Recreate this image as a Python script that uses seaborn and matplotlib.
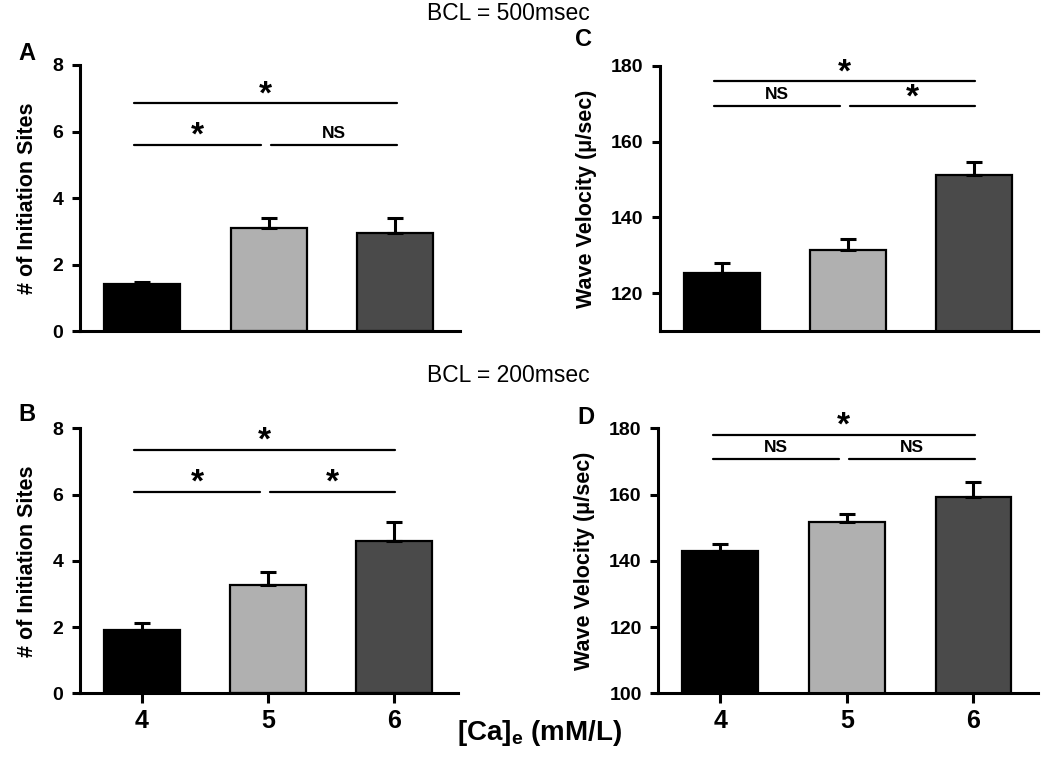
import numpy as np
import matplotlib
import matplotlib.pyplot as plt
import seaborn as sns

matplotlib.use('Agg')

# values
conc = ['4', '5', '6']
bar_colors = ['#000000', '#b0b0b0', '#4a4a4a']

sites_500 = [1.40, 3.10, 2.95]
sites_500_err = [0.07, 0.30, 0.45]
vel_500 = [125.4, 131.4, 151.2]
vel_500_err = [2.5, 2.8, 3.4]

sites_200 = [1.91, 3.27, 4.60]
sites_200_err = [0.20, 0.38, 0.58]
vel_200 = [143.1, 151.8, 159.4]
vel_200_err = [2.0, 2.3, 4.5]

# significance brackets: (from, to, height, label)
sig_a = [(0, 1, 5.6, '*'), (1, 2, 5.6, 'NS'), (0, 2, 6.85, '*')]
sig_b = [(0, 1, 6.09, '*'), (1, 2, 6.09, '*'), (0, 2, 7.35, '*')]
sig_c = [(0, 1, 169.4, 'NS'), (1, 2, 169.4, '*'), (0, 2, 176.0, '*')]
sig_d = [(0, 1, 170.8, 'NS'), (1, 2, 170.8, 'NS'), (0, 2, 178.0, '*')]

sns.set_theme(style='ticks')
plt.rcParams['font.family'] = ['Liberation Sans', 'DejaVu Sans']
plt.rcParams['mathtext.fontset'] = 'custom'
plt.rcParams['mathtext.rm'] = 'Liberation Sans'
plt.rcParams['mathtext.bf'] = 'Liberation Sans:bold'
for key in ['text.color', 'axes.labelcolor', 'xtick.color', 'ytick.color']:
    plt.rcParams[key] = 'black'

W, H = 1050, 762
fig = plt.figure(figsize=(W / 100, H / 100), dpi=100)
ax_a = fig.add_axes([0.0762, 0.5656, 0.3619, 0.3491])
ax_c = fig.add_axes([0.6286, 0.5656, 0.3600, 0.3478])
ax_b = fig.add_axes([0.0762, 0.0901, 0.3600, 0.3478])
ax_d = fig.add_axes([0.6270, 0.0901, 0.3616, 0.3478])


def panel(ax, vals, errs, sigs, ylim, yticks, ylabel, label_x, show_x):
    sns.barplot(x=conc, y=vals, hue=conc, palette=bar_colors, legend=False,
                edgecolor='black', linewidth=1.6, width=0.6, ax=ax)
    ax.errorbar(range(len(conc)), vals, yerr=[np.zeros(len(vals)), errs],
                fmt='none', ecolor='black', elinewidth=2.2, capsize=6, capthick=2.2)
    ax.set_xlim(-0.49, 2.51)
    ax.set_ylim(*ylim)
    ax.set_yticks(yticks)
    ax.set_yticklabels([str(t) for t in yticks], fontsize=14, fontweight='bold')
    ax.set_ylabel(ylabel, fontsize=15.5, fontweight='bold')
    ax.yaxis.set_label_coords(label_x, 0.5)
    ax.set_xlabel('')
    sns.despine(ax=ax)
    for s in ['left', 'bottom']:
        ax.spines[s].set_linewidth(2.2)
        ax.spines[s].set_color('black')
    ax.tick_params(axis='y', length=6, width=2.2, pad=6, colors='black')
    if show_x:
        ax.set_xticks(range(len(conc)))
        ax.set_xticklabels(conc, fontsize=18, fontweight='bold')
        ax.tick_params(axis='x', length=7, width=2.2, pad=4, colors='black')
    else:
        ax.set_xticks([])
    # significance brackets
    for a, b, h, lab in sigs:
        x0 = a - 0.06 if a == 0 else a + 0.02
        x1 = b + 0.01 if b == 2 else b - 0.06
        ax.plot([x0, x1], [h, h], color='black', lw=1.6, clip_on=False)
        if lab == '*':
            ax.annotate(lab, xy=((x0 + x1) / 2, h), xytext=(0, -5),
                        textcoords='offset points', ha='center', va='bottom',
                        fontsize=24, fontweight='bold', annotation_clip=False)
        else:
            ax.annotate(lab, xy=((x0 + x1) / 2, h), xytext=(0, 3),
                        textcoords='offset points', ha='center', va='bottom',
                        fontsize=12.5, fontweight='bold', annotation_clip=False)


panel(ax_a, sites_500, sites_500_err, sig_a, (0, 8), [0, 2, 4, 6, 8],
      '# of Initiation Sites', -0.11, False)
panel(ax_c, vel_500, vel_500_err, sig_c, (110, 180), [120, 140, 160, 180],
      'Wave Velocity (μ/sec)', -0.167, False)
panel(ax_b, sites_200, sites_200_err, sig_b, (0, 8), [0, 2, 4, 6, 8],
      '# of Initiation Sites', -0.11, True)
panel(ax_d, vel_200, vel_200_err, sig_d, (100, 180), [100, 120, 140, 160, 180],
      'Wave Velocity (μ/sec)', -0.167, True)

# panel letters
for letter, px, py in [('A', 27, 54), ('B', 27, 415), ('C', 584, 40), ('D', 586, 417)]:
    fig.text(px / W, 1 - py / H, letter, fontsize=17, fontweight='bold',
             ha='center', va='center')

fig.text(508 / W, 1 - 13 / H, 'BCL = 500msec', ha='center', va='center', fontsize=16.5)
fig.text(508 / W, 1 - 375 / H, 'BCL = 200msec', ha='center', va='center', fontsize=16.5)
fig.text(540 / W, 1 - 733 / H, r'[Ca]$_{\mathbf{e}}$ (mM/L)', ha='center', va='center',
         fontsize=20, fontweight='bold')

plt.savefig('out.png', dpi=100)
